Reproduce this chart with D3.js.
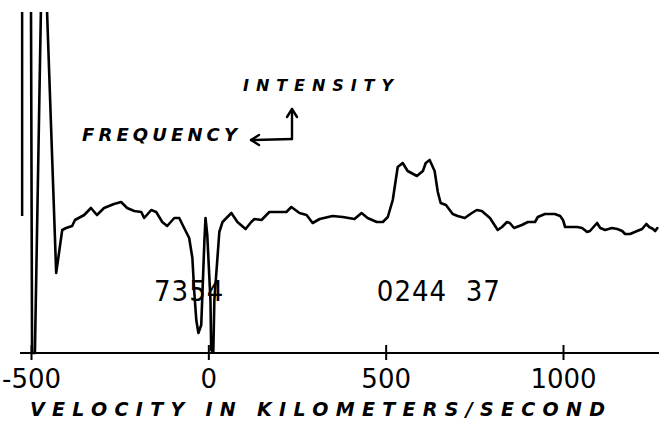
<!DOCTYPE html>
<html>
<head>
<meta charset="utf-8">
<script src="https://cdn.jsdelivr.net/npm/d3@7"></script>
<style>
  html, body { margin: 0; padding: 0; background: #fff; }
  svg { display: block; }
</style>
</head>
<body>
<svg id="chart" width="659" height="424"></svg>
<script>
// ---- data (velocity in km/s, intensity in arbitrary units) ----
const velocity = [
  -500, -497, -489, -472, -463, -455,
  -429, -412, -401, -384, -376, -350, -331, -314, -294, -266, -246, -229, -209, -189,
  -181, -161, -147, -130, -116, -96, -82, -71, -54, -45, -40, -34, -28, -20, -11, -8,
  -3, 6, 8, 14, 17, 31, 40, 65, 82, 105, 121, 130, 150, 172, 220, 234, 257, 277, 294,
  314, 350, 379, 412, 432, 449, 475, 492, 506, 520, 534, 548, 562, 588, 605, 613, 624,
  638, 647, 655, 670, 689, 703, 723, 743, 757, 771, 794, 816, 828, 842, 850, 862, 884,
  901, 921, 929, 949, 977, 992, 1000, 1006, 1040, 1054, 1068, 1076, 1096, 1105, 1119,
  1138, 1153, 1167, 1175, 1189, 1209, 1223, 1235, 1243, 1254, 1260, 1266
];
const intensity = [
  172, 0, 0, 172, 200, 172,
  40, 61.5, 62.5, 63.5, 66.5, 69, 72.5, 69, 72.5, 74.5, 75.5, 72.5, 71, 70.5,
  67.5, 71.5, 70.5, 65.5, 63.5, 67.5, 67.5, 63.5, 57.5, 47.5, 31.5, 16.5, 10, 14, 56.5, 67.5,
  59, 26.5, 1.5, 0.5, 26.5, 60.5, 65.5, 70, 65.5, 62, 65.5, 67, 66.5, 70.5, 70.5, 73, 70, 69, 65,
  67, 68.5, 68, 67, 70, 67.5, 65.5, 65.5, 68, 76.5, 93, 95, 91, 88.5, 91, 95, 96.5,
  91, 80.5, 75, 74, 69.5, 68.5, 67.5, 70, 71.5, 71, 67.5, 61.5, 63, 65.5, 65, 62.5, 64,
  65.5, 65.5, 68, 69.5, 69.5, 68.5, 66.5, 63, 63, 62.5, 60.5, 61, 65, 62.5, 61.5,
  62.5, 62, 61, 59.5, 59.5, 61, 62, 64.5, 63, 62, 61, 62.5
];
const tickValues = [-500, 0, 500, 1000];
const tickLabels = ["-500", "0", "500", "1000"];
const leftMarkVelocity = -525;
const leftMarkRange = [68.5, 180];
const labelsNumbers = ["7354", "0244  37"];
const labelsNumbersAt = [-54, 650];          // velocity where each number centres
const xTitle = "VELOCITY IN KILOMETERS/SECOND";
const intensityLabel = "INTENSITY";
const frequencyLabel = "FREQUENCY";

// ---- scales ----
const svg = d3.select("#chart");
const x = d3.scaleLinear().domain([-500, 1000]).range([31, 563]);
const y = d3.scaleLinear().domain([0, 100]).range([353, 153]);

svg.append("defs").append("clipPath").attr("id", "clip")
  .append("rect").attr("x", 0).attr("y", 12).attr("width", 659).attr("height", 412);

// ---- axis ----
svg.append("line")
  .attr("x1", 20).attr("x2", 659).attr("y1", y(0)).attr("y2", y(0))
  .attr("stroke", "#000").attr("stroke-width", 2);

const axis = d3.axisBottom(x)
  .tickValues(tickValues)
  .tickFormat((d, i) => tickLabels[i])
  .tickSize(7);
const gAxis = svg.append("g").attr("transform", `translate(0,${y(0)})`).call(axis);
gAxis.select(".domain").remove();
gAxis.selectAll(".tick line").attr("y1", -8).attr("y2", 7)
  .attr("stroke", "#000").attr("stroke-width", 2);
gAxis.selectAll(".tick text")
  .attr("y", 35).attr("dy", 0)
  .attr("fill", "#000")
  .style("font-family", "'DejaVu Sans', sans-serif")
  .style("font-size", "26px");

// ---- left vertical mark ----
svg.append("line")
  .attr("clip-path", "url(#clip)")
  .attr("x1", x(leftMarkVelocity)).attr("x2", x(leftMarkVelocity))
  .attr("y1", y(leftMarkRange[0])).attr("y2", y(leftMarkRange[1]))
  .attr("stroke", "#000").attr("stroke-width", 2.5);

// ---- spectrum line ----
const data = velocity.map((v, i) => ({ v, I: intensity[i] }));
svg.append("path")
  .datum(data)
  .attr("clip-path", "url(#clip)")
  .attr("fill", "none")
  .attr("stroke", "#000")
  .attr("stroke-width", 2.6)
  .attr("stroke-linejoin", "round")
  .attr("stroke-linecap", "round")
  .attr("d", d3.line().x(d => x(d.v)).y(d => y(d.I)));

// ---- printed numbers ----
svg.selectAll("text.num")
  .data(labelsNumbers)
  .enter().append("text")
  .attr("class", "num")
  .attr("x", (d, i) => x(labelsNumbersAt[i]))
  .attr("y", 301)
  .attr("text-anchor", "middle")
  .attr("fill", "#000")
  .style("font-family", "'DejaVu Sans Condensed', 'DejaVu Sans', sans-serif")
  .style("font-size", "29px")
  .style("letter-spacing", "1px")
  .style("white-space", "pre")
  .text(d => d);

// ---- hand-lettered labels ----
function hand(txt, x0, yBase, len, size) {
  svg.append("text")
    .attr("x", x0).attr("y", yBase)
    .attr("textLength", len).attr("lengthAdjust", "spacing")
    .attr("fill", "#000")
    .style("font-family", "'DejaVu Sans', sans-serif")
    .style("font-style", "italic")
    .style("font-weight", "bold")
    .style("font-size", size + "px")
    .text(txt);
}
hand(intensityLabel, 243, 91, 150, 16);
hand(frequencyLabel, 82, 141, 155, 18);
hand(xTitle, 30, 416, 575, 19);

// ---- arrows ----
const ag = svg.append("g").attr("stroke", "#000").attr("stroke-width", 2.4)
  .attr("fill", "none").attr("stroke-linecap", "round").attr("stroke-linejoin", "round");
ag.append("path").attr("d", "M292,139 L251,140");
ag.append("path").attr("d", "M259,135 L251,140 L259,145");
ag.append("path").attr("d", "M292,139 L292,109");
ag.append("path").attr("d", "M287,117 L292,109 L297,117");
</script>
</body>
</html>
